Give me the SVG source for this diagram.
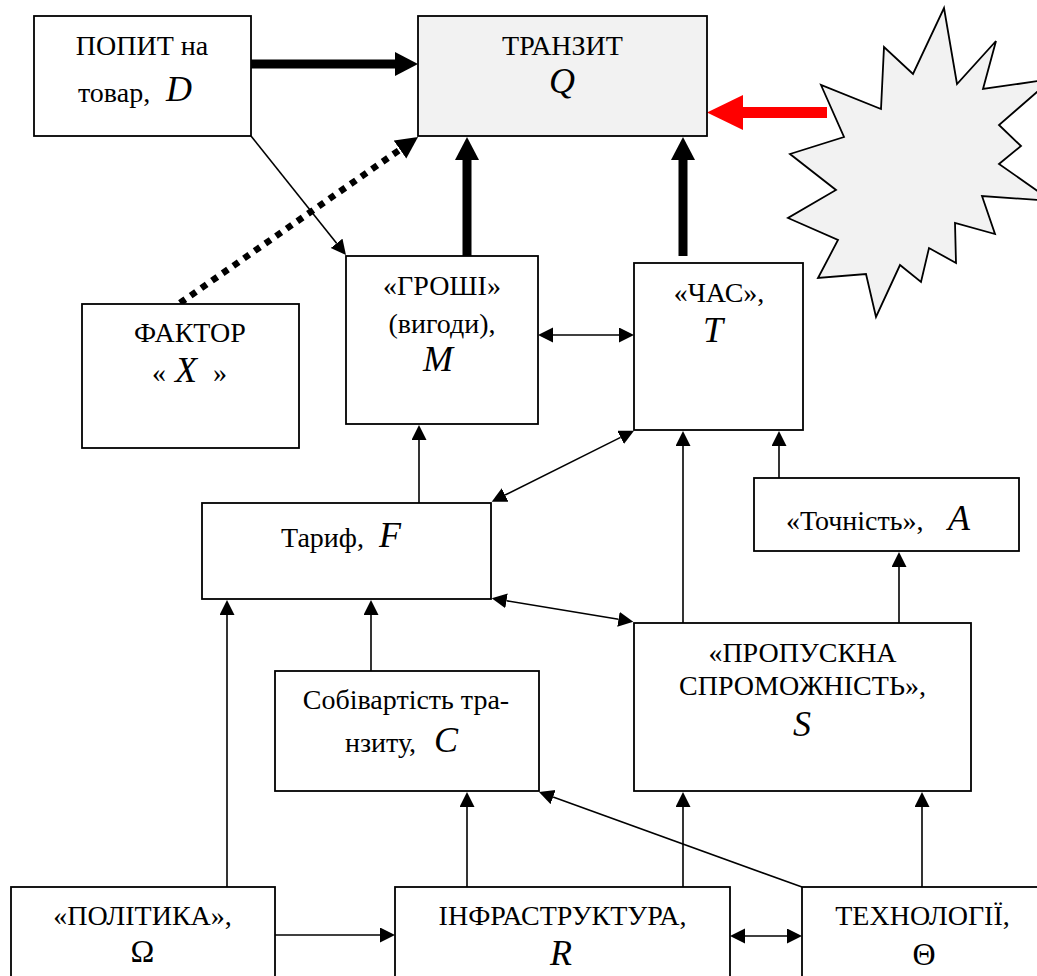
<svg xmlns="http://www.w3.org/2000/svg" width="1037" height="976" viewBox="0 0 1037 976">
<style>
.box{fill:#fff;stroke:#000;stroke-width:1.8}
.t{font-family:"Liberation Serif","Times New Roman",serif;font-size:28px;fill:#000}
.v{font-family:"Liberation Serif","Times New Roman",serif;font-size:36px;font-style:italic;fill:#000}
.g{font-family:"Liberation Serif","Times New Roman",serif;font-size:32px;fill:#000}
.m{text-anchor:middle}
.thin{stroke:#000;stroke-width:1.6;fill:none}
.thick{stroke:#000;stroke-width:9;fill:none}
</style>
<defs>
<marker id="ah" markerUnits="userSpaceOnUse" markerWidth="16" markerHeight="16" refX="0" refY="7.5" orient="auto-start-reverse" viewBox="0 0 16 16"><path d="M0,0 L15,7.5 L0,15 z" fill="#000"/></marker>
<marker id="ahT" markerUnits="userSpaceOnUse" markerWidth="24" markerHeight="25" refX="0" refY="12" orient="auto" viewBox="0 0 24 25"><path d="M0,0 L23,12 L0,24 z" fill="#000"/></marker>
<marker id="ahD" markerUnits="userSpaceOnUse" markerWidth="23" markerHeight="23" refX="0" refY="11" orient="auto" viewBox="0 0 23 23"><path d="M0,0 L22,11 L0,22 z" fill="#000"/></marker>
<marker id="ahR" markerUnits="userSpaceOnUse" markerWidth="37" markerHeight="36" refX="0" refY="17.5" orient="auto" viewBox="0 0 37 36"><path d="M0,0 L36,17.5 L0,35 z" fill="#ff0000"/></marker>
</defs>

<g id="burst">
<polygon points="944,8 957,84 996,41 983,89 1052,79 999,125 1021,146 999,164 1052,201 982,196 995,234 955,223 956,263 929,248 921,282 900,265 876,317 866,274 818,278 838,240 788,218 836,190 790,154 844,137 821,85 881,109 884,47 913,74" fill="#f2f2f2" stroke="#000" stroke-width="1.8" stroke-linejoin="miter"/>
</g>

<g id="connectors">
<line x1="251" y1="64" x2="395" y2="64" class="thick" stroke-width="8" marker-end="url(#ahT)"/>
<line x1="467" y1="256" x2="467" y2="160" class="thick" marker-end="url(#ahT)"/>
<line x1="683" y1="256" x2="683" y2="160" class="thick" marker-end="url(#ahT)"/>
<line x1="827" y1="112.5" x2="743" y2="112.5" stroke="#ff0000" stroke-width="11" marker-end="url(#ahR)"/>
<line x1="180" y1="303" x2="400" y2="149.6" stroke="#000" stroke-width="6.5" stroke-dasharray="6.5,6.5" marker-end="url(#ahD)"/>
<line x1="251" y1="136" x2="336.6" y2="243.3" class="thin" marker-end="url(#ah)"/>
<line x1="553" y1="335" x2="619" y2="335" class="thin" marker-start="url(#ah)" marker-end="url(#ah)"/>
<line x1="419" y1="503" x2="419" y2="440" class="thin" marker-end="url(#ah)"/>
<line x1="505.1" y1="495" x2="620.6" y2="437.4" class="thin" marker-start="url(#ah)" marker-end="url(#ah)"/>
<line x1="506.5" y1="600.8" x2="618.5" y2="619.3" class="thin" marker-start="url(#ah)" marker-end="url(#ah)"/>
<line x1="683" y1="623" x2="683" y2="446" class="thin" marker-end="url(#ah)"/>
<line x1="779" y1="478" x2="779" y2="446" class="thin" marker-end="url(#ah)"/>
<line x1="899" y1="623" x2="899" y2="567" class="thin" marker-end="url(#ah)"/>
<line x1="371" y1="671" x2="371" y2="615" class="thin" marker-end="url(#ah)"/>
<line x1="227" y1="887" x2="227" y2="615" class="thin" marker-end="url(#ah)"/>
<line x1="467" y1="887" x2="467" y2="807" class="thin" marker-end="url(#ah)"/>
<line x1="683" y1="887" x2="683" y2="807" class="thin" marker-end="url(#ah)"/>
<line x1="922" y1="887" x2="922" y2="807" class="thin" marker-end="url(#ah)"/>
<line x1="802" y1="887" x2="553.1" y2="797.1" class="thin" marker-end="url(#ah)"/>
<line x1="275" y1="935" x2="380" y2="935" class="thin" stroke-width="2" marker-end="url(#ah)"/>
<line x1="745" y1="936" x2="787" y2="936" class="thin" stroke-width="2" marker-start="url(#ah)" marker-end="url(#ah)"/>
</g>

<g id="demand">
<rect class="box" x="34" y="16" width="217" height="120"/>
<text class="t m" x="142" y="55">ПОПИТ на</text>
<text class="t" x="78" y="102">товар,</text>
<text class="v" x="166" y="101">D</text>
</g>

<g id="transit">
<rect class="box" x="418" y="16" width="289" height="120" style="fill:#f2f2f2"/>
<text class="t m" x="562.5" y="55">ТРАНЗИТ</text>
<text class="v m" x="562" y="93">Q</text>
</g>

<g id="money">
<rect class="box" x="346" y="256" width="192" height="168"/>
<text class="t m" x="442" y="295">«ГРОШІ»</text>
<text class="t m" x="442" y="333">(вигоди),</text>
<text class="v m" x="438" y="371">M</text>
</g>

<g id="time">
<rect class="box" x="634" y="263" width="169" height="167"/>
<text class="t m" x="719" y="302">«ЧАС»,</text>
<text class="v m" x="713" y="342">T</text>
</g>

<g id="factorX">
<rect class="box" x="82" y="304" width="217" height="144"/>
<text class="t m" x="190" y="342">ФАКТОР</text>
<text class="t" x="152" y="382" font-size="22">«</text>
<text class="v" x="175" y="382">X</text>
<text class="t" x="213" y="382" font-size="22">»</text>
</g>

<g id="tariff">
<rect class="box" x="202" y="503" width="289" height="96"/>
<text class="t" x="281" y="547">Тариф,</text>
<text class="v" x="379" y="547">F</text>
</g>

<g id="accuracy">
<rect class="box" x="754" y="478" width="265" height="73"/>
<text class="t" x="786" y="530">«Точність»,</text>
<text class="v" x="948" y="530">A</text>
</g>

<g id="capacity">
<rect class="box" x="634" y="623" width="337" height="168"/>
<text class="t m" x="802.5" y="662">«ПРОПУСКНА</text>
<text class="t m" x="802.5" y="695">СПРОМОЖНІСТЬ»,</text>
<text class="v m" x="802" y="736">S</text>
</g>

<g id="cost">
<rect class="box" x="275" y="671" width="264" height="120"/>
<text class="t m" x="406" y="709">Собівартість тра-</text>
<text class="t" x="345" y="752">нзиту,</text>
<text class="v" x="434" y="752">C</text>
</g>

<g id="policy">
<rect class="box" x="11" y="887" width="264" height="110"/>
<text class="t m" x="142.5" y="925">«ПОЛІТИКА»,</text>
<text class="g m" x="142.5" y="962">Ω</text>
</g>

<g id="infrastructure">
<rect class="box" x="395" y="887" width="335" height="110"/>
<text class="t m" x="562.5" y="925">ІНФРАСТРУКТУРА,</text>
<text class="v m" x="561" y="965">R</text>
</g>

<g id="technology">
<rect class="box" x="802" y="887" width="250" height="110"/>
<text class="t m" x="922.5" y="925">ТЕХНОЛОГІЇ,</text>
<text class="g m" x="924" y="965">Θ</text>
</g>
</svg>
